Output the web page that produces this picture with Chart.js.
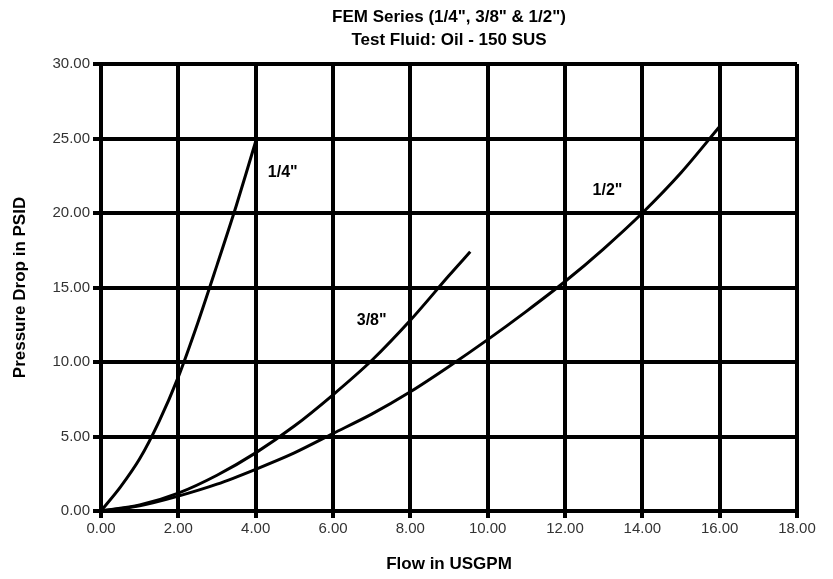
<!DOCTYPE html>
<html>
<head>
<meta charset="utf-8">
<script src="https://cdn.jsdelivr.net/npm/chart.js@4/dist/chart.umd.min.js"></script>
<style>
  html, body { margin: 0; padding: 0; background: #fff; }
  #wrap { width: 833px; height: 579px; }
</style>
</head>
<body>
<div id="wrap"><canvas id="c"></canvas></div>
<script>
// titles
const titleLines = ['FEM Series (1/4", 3/8" & 1/2")', 'Test Fluid: Oil - 150 SUS'];
const xTitle = 'Flow in USGPM';
const yTitle = 'Pressure Drop in PSID';

// 1/4" curve
const flow14 = [0, 0.5, 1, 1.5, 2, 2.5, 3, 3.5, 4];
const dp14   = [0, 1.6, 3.5, 6.0, 9.0, 12.6, 16.5, 20.5, 24.8];

// 3/8" curve
const flow38 = [0, 1, 2, 3, 4, 5, 6, 7, 8, 9, 9.55];
const dp38   = [0, 0.4, 1.2, 2.4, 3.9, 5.7, 7.8, 10.1, 12.8, 15.8, 17.4];

// 1/2" curve
const flow12 = [0, 1, 2, 3, 4, 5, 6, 7, 8, 9, 10, 11, 12, 13, 14, 15, 16];
const dp12   = [0, 0.35, 1.0, 1.8, 2.8, 3.9, 5.2, 6.5, 8.0, 9.7, 11.5, 13.4, 15.4, 17.6, 20.0, 22.7, 25.8];

// curve labels (in data units)
const curveNames = ['1/4"', '3/8"', '1/2"'];
const nameFlow   = [4.7, 7.0, 13.1];
const nameDp     = [22.7, 12.8, 21.5];

// axis ranges
const xMin = 0, xMax = 18, xStep = 2;
const yMin = 0, yMax = 30, yStep = 5;

const toPoints = (xs, ys) => xs.map((x, i) => ({ x: x, y: ys[i] }));

const lineStyle = {
  showLine: true,
  borderColor: '#000',
  borderWidth: 3,
  pointRadius: 0,
  tension: 0.3,
  fill: false
};

// draws the title and the curve names
const textPlugin = {
  id: 'texts',
  afterDraw(chart) {
    const { ctx, chartArea, scales } = chart;
    ctx.save();
    ctx.fillStyle = '#000';
    ctx.textAlign = 'center';
    ctx.textBaseline = 'middle';
    ctx.font = 'bold 17px "Liberation Sans", Arial, sans-serif';
    const cx = (chartArea.left + chartArea.right) / 2;
    ctx.fillText(titleLines[0], cx, 17);
    ctx.fillText(titleLines[1], cx, 40);

    ctx.font = 'bold 16px "Liberation Sans", Arial, sans-serif';
    curveNames.forEach((n, i) => {
      ctx.fillText(n, scales.x.getPixelForValue(nameFlow[i]), scales.y.getPixelForValue(nameDp[i]));
    });
    ctx.restore();
  }
};

const tickFont = { family: '"Liberation Sans", Arial, sans-serif', size: 15 };
const axisTitleFont = { family: '"Liberation Sans", Arial, sans-serif', size: 17, weight: 'bold' };

new Chart(document.getElementById('c'), {
  type: 'scatter',
  data: {
    datasets: [
      Object.assign({ label: curveNames[0], data: toPoints(flow14, dp14) }, lineStyle),
      Object.assign({ label: curveNames[1], data: toPoints(flow38, dp38) }, lineStyle),
      Object.assign({ label: curveNames[2], data: toPoints(flow12, dp12) }, lineStyle)
    ]
  },
  options: {
    responsive: true,
    maintainAspectRatio: false,
    animation: false,
    layout: { padding: { left: 0, right: 36, top: 64, bottom: 0 } },
    scales: {
      x: {
        type: 'linear',
        min: xMin, max: xMax,
        grid: { color: '#000', lineWidth: 4, tickLength: 7 },
        border: { color: '#000', width: 4 },
        ticks: {
          stepSize: xStep,
          color: '#333',
          font: tickFont,
          padding: 2,
          maxRotation: 0,
          callback: v => v.toFixed(2)
        },
        title: { display: true, text: xTitle, font: axisTitleFont, color: '#000', padding: { top: 0, bottom: 4 } },
        afterFit(s) { s.height = 68; }
      },
      y: {
        type: 'linear',
        min: yMin, max: yMax,
        grid: { color: '#000', lineWidth: 4, tickLength: 8 },
        border: { color: '#000', width: 4 },
        ticks: {
          stepSize: yStep,
          color: '#333',
          font: tickFont,
          padding: 3,
          callback: v => v.toFixed(2)
        },
        title: { display: true, text: yTitle, font: axisTitleFont, color: '#000', padding: { top: 10, bottom: 0 } },
        afterFit(s) { s.width = 101; }
      }
    },
    plugins: {
      legend: { display: false },
      tooltip: { enabled: false }
    }
  },
  plugins: [textPlugin]
});
</script>
</body>
</html>
